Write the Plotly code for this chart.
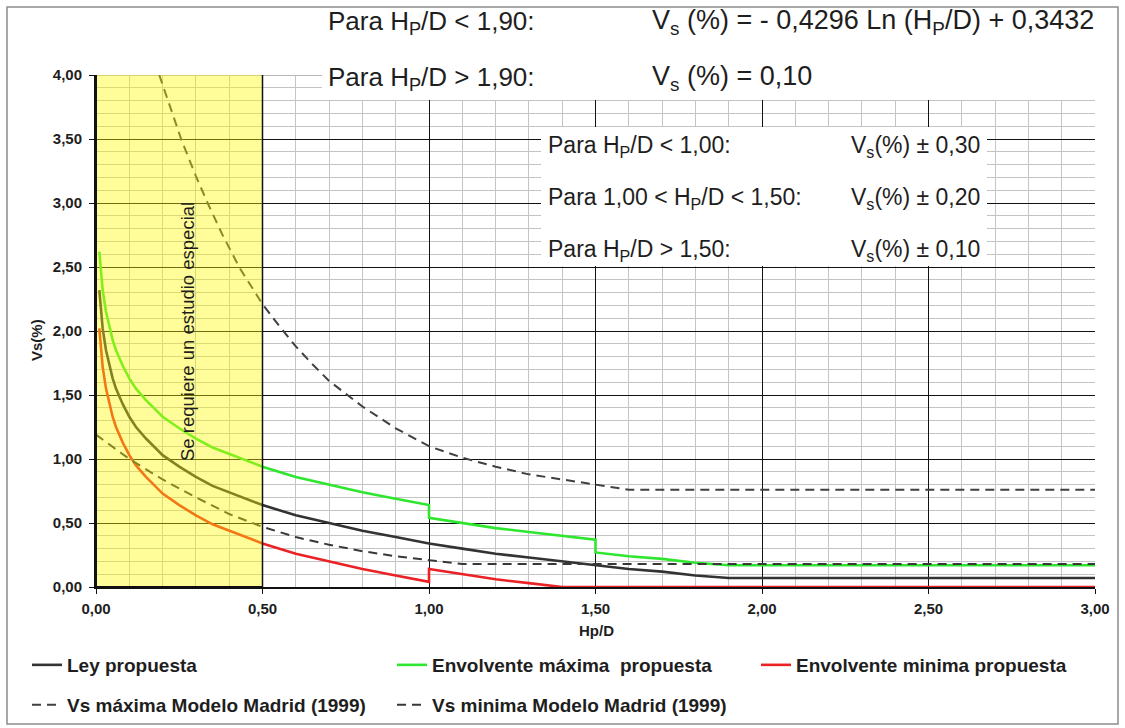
import plotly.graph_objects as go

# ---------------- data ----------------
x_ley = [0.01, 0.015, 0.02, 0.03, 0.04, 0.05, 0.06, 0.08, 0.10, 0.12, 0.15, 0.20, 0.25, 0.30, 0.35,
         0.40, 0.50, 0.60, 0.70, 0.80, 0.90, 1.00, 1.10, 1.20, 1.30, 1.40, 1.50, 1.60, 1.70,
         1.80, 1.90, 3.00]
y_ley = [2.32, 2.15, 2.02, 1.85, 1.73, 1.63, 1.55, 1.43, 1.33, 1.25, 1.16, 1.03, 0.94, 0.86, 0.79,
         0.74, 0.64, 0.56, 0.50, 0.44, 0.39, 0.34, 0.30, 0.26, 0.23, 0.20, 0.17, 0.14, 0.12,
         0.09, 0.07, 0.07]

x_max = [0.01, 0.015, 0.02, 0.03, 0.04, 0.05, 0.06, 0.08, 0.10, 0.12, 0.15, 0.20, 0.25, 0.30, 0.35,
         0.40, 0.50, 0.60, 0.70, 0.80, 0.90, 1.00,
         1.00, 1.10, 1.20, 1.30, 1.40, 1.50,
         1.50, 1.60, 1.70, 1.80, 1.90, 3.00]
y_max = [2.62, 2.45, 2.32, 2.15, 2.03, 1.93, 1.85, 1.73, 1.63, 1.55, 1.46, 1.33, 1.24, 1.16, 1.09,
         1.04, 0.94, 0.86, 0.80, 0.74, 0.69, 0.64,
         0.54, 0.50, 0.46, 0.43, 0.40, 0.37,
         0.27, 0.24, 0.22, 0.19, 0.17, 0.17]

x_min = [0.01, 0.015, 0.02, 0.03, 0.04, 0.05, 0.06, 0.08, 0.10, 0.12, 0.15, 0.20, 0.25, 0.30, 0.35,
         0.40, 0.50, 0.60, 0.70, 0.80, 0.90, 1.00,
         1.00, 1.10, 1.20, 1.30, 1.40, 3.00]
y_min = [2.02, 1.85, 1.72, 1.55, 1.43, 1.33, 1.25, 1.13, 1.03, 0.95, 0.86, 0.73, 0.64, 0.56, 0.49,
         0.44, 0.34, 0.26, 0.20, 0.14, 0.09, 0.04,
         0.14, 0.10, 0.06, 0.03, 0.00, 0.00]

x_mad_max = [0.19, 0.22, 0.257, 0.30, 0.337, 0.38, 0.432, 0.50, 0.55, 0.60, 0.65, 0.70, 0.80,
             0.90, 1.00, 1.10, 1.20, 1.30, 1.40, 1.50, 1.60, 3.00]
y_mad_max = [4.00, 3.77, 3.49, 3.21, 2.99, 2.75, 2.49, 2.21, 2.04, 1.88, 1.74, 1.61, 1.41,
             1.24, 1.10, 1.01, 0.94, 0.88, 0.84, 0.80, 0.76, 0.76]

x_mad_min = [0.00, 0.10, 0.20, 0.30, 0.40, 0.50, 0.60, 0.70, 0.80, 0.90, 1.00, 1.10, 3.00]
y_mad_min = [1.19, 1.00, 0.84, 0.70, 0.57, 0.47, 0.39, 0.33, 0.28, 0.24, 0.21, 0.18, 0.18]

names = ["Ley propuesta", "Envolvente máxima  propuesta", "Envolvente minima propuesta",
         "Vs máxima Modelo Madrid (1999)", "Vs minima Modelo Madrid (1999)"]

# ---------------- geometry helpers (pixel -> paper) ----------------
W, H = 1125, 728
L, R, T, B = 96, 30, 75, 141
PW, PH = W - L - R, H - T - B


def px(x):
    return (x - L) / PW


def py(y):
    return (H - B - y) / PH


SANS = "Liberation Sans, Arial, sans-serif"
TXT = "#1e1e1e"

fig = go.Figure()
fig.add_trace(go.Scatter(x=x_mad_max, y=y_mad_max, mode="lines", name=names[3], legend="legend4",
                         line=dict(color="#404040", width=2, dash="9px,6px")))
fig.add_trace(go.Scatter(x=x_ley, y=y_ley, mode="lines", name=names[0], legend="legend",
                         line=dict(color="#333333", width=2.6)))
fig.add_trace(go.Scatter(x=x_max, y=y_max, mode="lines", name=names[1], legend="legend2",
                         line=dict(color="#2fe62f", width=2.6)))
fig.add_trace(go.Scatter(x=x_min, y=y_min, mode="lines", name=names[2], legend="legend3",
                         line=dict(color="#ea2226", width=2.6)))
fig.add_trace(go.Scatter(x=x_mad_min, y=y_mad_min, mode="lines", name=names[4], legend="legend5",
                         line=dict(color="#383838", width=2, dash="9px,6px")))

legfont = dict(family=SANS, size=19, color=TXT, weight="bold")
row1, row2 = py(665), py(705)
col1, col2, col3 = px(27), px(392), px(756)
common = dict(xanchor="left", yanchor="middle", bgcolor="rgba(0,0,0,0)", font=legfont,
              orientation="h", borderwidth=0)

fig.update_layout(
    width=W, height=H,
    margin=dict(l=L, r=R, t=T, b=B, autoexpand=False),
    paper_bgcolor="white", plot_bgcolor="white",
    separators=",.",
    showlegend=True,
    legend=dict(x=col1, y=row1, **common),
    legend2=dict(x=col2, y=row1, **common),
    legend3=dict(x=col3, y=row1, **common),
    legend4=dict(x=col1, y=row2, **common),
    legend5=dict(x=col2, y=row2, **common),
    xaxis=dict(range=[0, 3], dtick=0.5, tick0=0, tickformat=".2f",
               showgrid=True, gridcolor="#111111", gridwidth=1,
               minor=dict(dtick=0.1, showgrid=True, gridcolor="#c4c4c4", gridwidth=1),
               showline=True, linecolor="#111111", linewidth=2,
               ticks="outside", ticklen=5, tickcolor="#111111",
               tickfont=dict(family=SANS, size=15, color=TXT, weight="bold"),
               ticklabelstandoff=2, zeroline=False, layer="below traces"),
    yaxis=dict(range=[0, 4], dtick=0.5, tick0=0, tickformat=".2f",
               showgrid=True, gridcolor="#111111", gridwidth=1,
               minor=dict(dtick=0.1, showgrid=True, gridcolor="#c4c4c4", gridwidth=1),
               showline=True, linecolor="#111111", linewidth=2,
               ticks="outside", ticklen=5, tickcolor="#111111",
               tickfont=dict(family=SANS, size=15, color=TXT, weight="bold"),
               ticklabelstandoff=4, zeroline=False, layer="below traces"),
)

shapes = [
    # grey top border of plot area
    dict(type="line", xref="x", yref="y", x0=0, x1=3, y0=4, y1=4,
         line=dict(color="#b8b8b8", width=2), layer="between"),
    # white box behind the second formula line
    dict(type="rect", xref="paper", yref="paper", x0=px(322), x1=px(1102), y0=py(100), y1=py(56),
         fillcolor="white", line=dict(width=0), layer="above"),
    # white box behind the tolerance table
    dict(type="rect", xref="paper", yref="paper", x0=px(541), x1=px(987), y0=py(266), y1=py(127),
         fillcolor="white", line=dict(width=0), layer="above"),
    # translucent yellow zone
    dict(type="rect", xref="x", yref="y", x0=0, x1=0.5, y0=0, y1=4,
         fillcolor="rgba(255,250,0,0.40)", line=dict(width=0), layer="above"),
    dict(type="line", xref="x", yref="y", x0=0, x1=0, y0=0, y1=4,
         line=dict(color="#111111", width=2), layer="above"),
    dict(type="line", xref="x", yref="y", x0=0.5, x1=0.5, y0=0, y1=4,
         line=dict(color="#111111", width=1.5), layer="above"),
    dict(type="line", xref="x", yref="y", x0=0, x1=0.5, y0=0, y1=0,
         line=dict(color="#111111", width=2), layer="above"),
    # outer frame
    dict(type="rect", xref="paper", yref="paper", x0=px(7), x1=px(1118), y0=py(724), y1=py(7),
         fillcolor="rgba(0,0,0,0)", line=dict(color="#8c8c8c", width=1.5), layer="above"),
]
fig.update_layout(shapes=shapes)

ann = []


def note(text, x, y, size, xanchor="left", angle=0, bold=False, family=SANS):
    ann.append(dict(text=text, x=x, y=y, xref="paper", yref="paper", xanchor=xanchor,
                    yanchor="middle", showarrow=False, textangle=angle,
                    font=dict(family=family, size=size, color=TXT,
                              weight="bold" if bold else "normal")))


note("Para H<sub>P</sub>/D < 1,90:", px(326), py(22), 26)
note("V<sub>s</sub> (%) = - 0,4296 Ln (H<sub>P</sub>/D) + 0,3432", px(650), py(22), 27)
note("Para H<sub>P</sub>/D > 1,90:", px(326), py(78), 26)
note("V<sub>s</sub> (%) = 0,10", px(650), py(78), 27)

note("Para H<sub>P</sub>/D < 1,00:", px(546), py(146), 23)
note("Para 1,00 < H<sub>P</sub>/D < 1,50:", px(546), py(198), 23)
note("Para H<sub>P</sub>/D > 1,50:", px(546), py(250), 23)
note("V<sub>s</sub>(%) ± 0,30", px(982), py(146), 23, xanchor="right")
note("V<sub>s</sub>(%) ± 0,20", px(982), py(198), 23, xanchor="right")
note("V<sub>s</sub>(%) ± 0,10", px(982), py(250), 23, xanchor="right")

note("Se requiere un estudio especial", px(187), py(332), 18.5, xanchor="center", angle=-90)

note("Vs(%)", px(36), py(340), 15, xanchor="center", angle=-90, bold=True)
note("Hp/D", px(596), py(630), 15, xanchor="center", bold=True)

fig.update_layout(annotations=ann)

fig.write_html("out.html")
